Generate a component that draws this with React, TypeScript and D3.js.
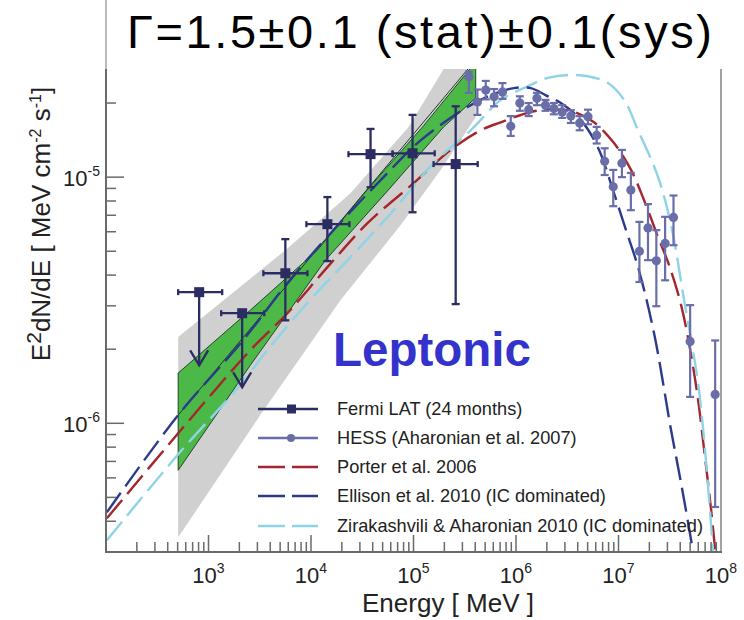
import React from "react";
import * as d3 from "d3";

// ---------- data ----------
const fermiE = [811, 2130, 5620, 14450, 38100, 97900, 258000];
const fermiELo = [506, 1330, 3430, 9020, 23200, 62500, 157000];
const fermiEHi = [1360, 3500, 9230, 23700, 62500, 161000, 423000];
const fermiF = [3.41e-6, 2.8e-6, 4.07e-6, 6.44e-6, 1.24e-5, 1.25e-5, 1.13e-5];
const fermiFLo = [1.72e-6, 1.4e-6, 2.62e-6, 4.56e-6, 9.1e-6, 7.2e-6, 3.05e-6];
const fermiFHi = [0, 0, 5.6e-6, 8.3e-6, 1.57e-5, 1.79e-5, 1.94e-5];
const fermiUL = [true, true, false, false, false, false, false];

const hessE = [3.47e5, 4.2e5, 5.07e5, 6.11e5, 7.38e5, 8.89e5, 1.09e6, 1.33e6, 1.6e6, 1.94e6, 2.34e6, 2.82e6, 3.43e6, 4.18e6, 5.04e6, 6.12e6, 7.33e6, 8.89e6, 1.08e7, 1.32e7, 1.6e7, 1.94e7, 2.34e7, 2.85e7, 3.44e7, 5.0e7, 8.77e7];
const hessF = [2.56e-5, 2.02e-5, 2.26e-5, 2.12e-5, 2.22e-5, 1.61e-5, 2.0e-5, 1.88e-5, 2.09e-5, 1.96e-5, 1.9e-5, 1.84e-5, 1.77e-5, 1.66e-5, 1.76e-5, 1.48e-5, 1.16e-5, 9.13e-6, 1.14e-5, 8.86e-6, 5.0e-6, 6.22e-6, 4.57e-6, 5.38e-6, 6.86e-6, 2.15e-6, 1.31e-6];
const hessFHi = [2.68e-5, 2.27e-5, 2.46e-5, 2.28e-5, 2.41e-5, 1.77e-5, 2.13e-5, 2.0e-5, 2.2e-5, 2.06e-5, 2.0e-5, 1.96e-5, 1.87e-5, 1.77e-5, 1.88e-5, 1.6e-5, 1.31e-5, 1.07e-5, 1.29e-5, 1.04e-5, 6.58e-6, 7.77e-6, 6.09e-6, 6.9e-6, 8.42e-6, 3.02e-6, 2.17e-6];
const hessFLo = [2.2e-5, 1.79e-5, 2.07e-5, 1.94e-5, 2.08e-5, 1.47e-5, 1.86e-5, 1.77e-5, 1.96e-5, 1.86e-5, 1.8e-5, 1.74e-5, 1.66e-5, 1.55e-5, 1.64e-5, 1.37e-5, 1.02e-5, 7.62e-6, 1.0e-5, 7.34e-6, 3.75e-6, 4.6e-6, 2.99e-6, 3.81e-6, 5.29e-6, 1.28e-6, 4.57e-7];

// systematic (gray) and statistical (green) butterflies
const grayUpE = [506, 5621, 24280, 89580, 196900];
const grayUpF = [2.24e-6, 5.05e-6, 8.61e-6, 1.6e-5, 2.75e-5];
const grayLoE = [506, 3202, 19390, 74780, 184000, 404600];
const grayLoF = [3.44e-7, 1.08e-6, 3.16e-6, 6.38e-6, 1.07e-5, 1.75e-5];
const greenUpE = [506, 2556, 11552, 32530, 122700, 404600];
const greenUpF = [1.6e-6, 2.88e-6, 5.05e-6, 8.53e-6, 1.6e-5, 2.94e-5];
const greenLoE = [506, 2556, 13830, 53380, 196900, 404600];
const greenLoF = [6.44e-7, 1.72e-6, 4.6e-6, 8.61e-6, 1.6e-5, 2.1e-5];
const fitE = [506, 404600];
const fitF = [1.08e-6, 3.0e-5];

// models
const porterE = [102, 506, 2556, 5880, 14470, 35590, 100200, 230500, 452800, 710200, 1.395e6, 2.342e6, 3.673e6, 5.761e6, 9.037e6, 1.325e7, 1.776e7, 2.433e7, 3.115e7, 4.083e7, 5.113e7, 5.986e7, 6.852e7, 8.018e7, 8.777e7];
const porterF = [4.11e-7, 9.11e-7, 1.98e-6, 2.8e-6, 4.31e-6, 6.5e-6, 9.45e-6, 1.29e-5, 1.55e-5, 1.67e-5, 1.84e-5, 1.89e-5, 1.84e-5, 1.67e-5, 1.375e-5, 1.07e-5, 8.06e-6, 5.7e-6, 4.39e-6, 3.02e-6, 1.89e-6, 1.24e-6, 7.77e-7, 4.43e-7, 3.05e-7];
const ellisonE = [102, 506, 2184, 5880, 16560, 51020, 117300, 337900, 567100, 951700, 1.395e6, 1.956e6, 2.741e6, 4.299e6, 6.303e6, 9.037e6, 1.184e7, 1.551e7, 2.223e7, 3.259e7, 4.083e7, 5.113e7, 5.349e7];
const ellisonF = [4.35e-7, 1.08e-6, 2.18e-6, 3.71e-6, 6.09e-6, 1.0e-5, 1.41e-5, 1.93e-5, 2.15e-5, 2.3e-5, 2.3e-5, 2.15e-5, 2.0e-5, 1.705e-5, 1.32e-5, 8.61e-6, 6.09e-6, 4.31e-6, 2.32e-6, 9.37e-7, 5.7e-7, 3.35e-7, 2.99e-7];
const zirakE = [102, 506, 2041, 3748, 9221, 24280, 63890, 157200, 361600, 452800, 710200, 1.304e6, 2.046e6, 3.209e6, 5.033e6, 7.898e6, 1.132e7, 1.551e7, 2.433e7, 3.259e7, 4.369e7, 5.113e7, 5.986e7, 6.852e7, 7.665e7, 8.388e7];
const zirakF = [3.35e-7, 7.48e-7, 1.43e-6, 1.98e-6, 3.08e-6, 4.73e-6, 7.34e-6, 1.14e-5, 1.55e-5, 1.71e-5, 2.06e-5, 2.34e-5, 2.53e-5, 2.6e-5, 2.57e-5, 2.41e-5, 2.06e-5, 1.55e-5, 1.0e-5, 6.38e-6, 3.16e-6, 2.18e-6, 1.45e-6, 8.53e-7, 4.86e-7, 2.99e-7];

const xMajor = [3, 4, 5, 6, 7, 8];
const yMajor = [-6, -5];
const legendLabels = [
  "Fermi LAT (24 months)",
  "HESS (Aharonian et al. 2007)",
  "Porter et al. 2006",
  "Ellison et al. 2010 (IC dominated)",
  "Zirakashvili & Aharonian 2010 (IC dominated)",
];
const titleText = "\u0393=1.5\u00b10.1 (stat)\u00b10.1(sys)";

// ---------- style ----------
const FONT = "'Liberation Sans', Arial, Helvetica, sans-serif";
const C_FERMI = "#2b2d62";
const C_HESS = "#6a6ea8";
const C_PORTER = "#a5262c";
const C_ELLISON = "#2c3a8c";
const C_ZIRAK = "#8ed3e6";
const C_GREEN = "#4cb848";
const C_GRAY = "#d0d0d0";
const C_AXIS = "#6a6a6a";

const L = 106, R = 721, T = 69, B = 552;

export default function App() {
  const x = d3.scaleLog().domain([100, 1e8]).range([L, R]);
  const y = d3.scaleLog().domain([3e-7, 2.75e-5]).range([B, T]);

  const pts = (E: number[], F: number[]) => E.map((e, i) => [x(e), y(F[i])] as [number, number]);
  const curve = d3.line().curve(d3.curveCatmullRom.alpha(0.5));
  const lin = d3.line();

  const grayPoly = [
    ...pts(grayUpE, grayUpF),
    [x(404600), y(2.75e-5)] as [number, number],
    ...pts(grayLoE, grayLoF).reverse(),
  ];
  const greenPoly = [...pts(greenUpE, greenUpF), ...pts(greenLoE, greenLoF).reverse()];

  // ticks
  const xTicks: { v: number; major: boolean }[] = [];
  for (let p = 2; p < 8; p++) for (let m = 1; m < 10; m++) {
    const v = m * Math.pow(10, p);
    if (v > 100 && v <= 1e8) xTicks.push({ v, major: m === 1 });
  }
  const yTicks: { v: number; major: boolean }[] = [];
  for (let p = -7; p < -4; p++) for (let m = 1; m < 10; m++) {
    const v = m * Math.pow(10, p);
    if (v > 3.05e-7 && v < 2.75e-5) yTicks.push({ v, major: m === 1 });
  }

  const dash = "24 8";

  return (
    <svg width={744} height={620} style={{ position: "absolute", left: 0, top: 0, background: "#fff" }} fontFamily={FONT}>
      <defs>
        <clipPath id="plotclip">
          <rect x={L} y={T} width={R - L} height={B - T} />
        </clipPath>
      </defs>
      <rect x={0} y={0} width={744} height={620} fill="#fff" />

      {/* title */}
      <line x1={L} y1={0} x2={L} y2={T} stroke="#777" strokeWidth={1} />
      <text x={127} y={48} fontSize={47} fill="#000" textLength={585} lengthAdjust="spacing">{titleText}</text>

      <g clipPath="url(#plotclip)">
        <path d={lin(grayPoly) + "Z"} fill={C_GRAY} />
        <path d={lin(greenPoly) + "Z"} fill={C_GREEN} stroke="#24462a" strokeWidth={1} />
        <path d={lin(pts(fitE, fitF)) || ""} fill="none" stroke="#1e3a22" strokeWidth={1} />

        <path d={curve(pts(porterE, porterF)) || ""} fill="none" stroke={C_PORTER} strokeWidth={2.4} strokeDasharray={dash} />
        <path d={curve(pts(zirakE, zirakF)) || ""} fill="none" stroke={C_ZIRAK} strokeWidth={2.4} strokeDasharray={dash} />
        <path d={curve(pts(ellisonE, ellisonF)) || ""} fill="none" stroke={C_ELLISON} strokeWidth={2.4} strokeDasharray={dash} />

        {/* HESS */}
        {hessE.map((e, i) => {
          const cx = x(e);
          return (
            <g key={"h" + i} stroke={C_HESS} strokeWidth={2.2}>
              <line x1={cx} x2={cx} y1={y(hessFHi[i])} y2={y(hessFLo[i])} />
              <line x1={cx - 4} x2={cx + 4} y1={y(hessFHi[i])} y2={y(hessFHi[i])} />
              <line x1={cx - 4} x2={cx + 4} y1={y(hessFLo[i])} y2={y(hessFLo[i])} />
              <circle cx={cx} cy={y(hessF[i])} r={4.6} fill={C_HESS} stroke="none" />
            </g>
          );
        })}

        {/* Fermi */}
        {fermiE.map((e, i) => {
          const cx = x(e);
          const cy = y(fermiF[i]);
          const x0 = x(fermiELo[i]);
          const x1 = x(fermiEHi[i]);
          const lo = y(fermiFLo[i]);
          return (
            <g key={"f" + i} stroke={C_FERMI} strokeWidth={2.3} fill="none">
              <line x1={x0} x2={x1} y1={cy} y2={cy} />
              <line x1={x0} x2={x0} y1={cy - 3} y2={cy + 3} />
              <line x1={x1} x2={x1} y1={cy - 3} y2={cy + 3} />
              {fermiUL[i] ? (
                <>
                  <line x1={cx} x2={cx} y1={cy} y2={lo} />
                  <polyline points={`${cx - 9},${lo - 15} ${cx},${lo} ${cx + 9},${lo - 15}`} />
                </>
              ) : (
                <>
                  <line x1={cx} x2={cx} y1={y(fermiFHi[i])} y2={lo} />
                  <line x1={cx - 4} x2={cx + 4} y1={y(fermiFHi[i])} y2={y(fermiFHi[i])} />
                  <line x1={cx - 4} x2={cx + 4} y1={lo} y2={lo} />
                </>
              )}
              <rect x={cx - 5} y={cy - 5} width={10} height={10} fill={C_FERMI} stroke="none" />
            </g>
          );
        })}
      </g>

      {/* axes */}
      <line x1={R} y1={T} x2={R} y2={B} stroke="#444" strokeWidth={1} />
      <line x1={L} y1={T} x2={L} y2={B + 1} stroke={C_AXIS} strokeWidth={2} />
      <line x1={L - 1} y1={B} x2={R + 1} y2={B} stroke={C_AXIS} strokeWidth={2} />
      {xTicks.map((t, i) => (
        <line key={"xt" + i} x1={x(t.v)} x2={x(t.v)} y1={B} y2={B - (t.major ? 17 : 10)} stroke={C_AXIS} strokeWidth={1.5} />
      ))}
      {yTicks.map((t, i) => (
        <line key={"yt" + i} x1={L} x2={L + (t.major ? 18 : 10)} y1={y(t.v)} y2={y(t.v)} stroke={C_AXIS} strokeWidth={1.5} />
      ))}
      {xMajor.map((p) => (
        <text key={"xl" + p} x={x(Math.pow(10, p))} y={583} fontSize={22} textAnchor="middle" fill="#222">
          10<tspan dy={-10} fontSize={14}>{p}</tspan>
        </text>
      ))}
      {yMajor.map((p) => (
        <text key={"yl" + p} x={100} y={y(Math.pow(10, p)) + 9} fontSize={22} textAnchor="end" fill="#222">
          10<tspan dy={-10} fontSize={14}>{p}</tspan>
        </text>
      ))}

      {/* axis titles */}
      <text x={448} y={612} fontSize={26} textAnchor="middle" fill="#222">Energy [ MeV ]</text>
      <text transform="translate(50,224) rotate(-90)" fontSize={26} textAnchor="middle" fill="#222">
        E<tspan dy={-9} fontSize={21}>2</tspan>
        <tspan dy={9}>dN/dE [ MeV cm</tspan>
        <tspan dy={-9} fontSize={16}>-2</tspan>
        <tspan dy={9}> s</tspan>
        <tspan dy={-9} fontSize={16}>-1</tspan>
        <tspan dy={9}>]</tspan>
      </text>

      {/* Leptonic */}
      <text x={333} y={366} fontSize={47.5} fontWeight="bold" fill="#3333cc">Leptonic</text>

      {/* legend */}
      {legendLabels.map((lab, i) => {
        const ly = [409, 438, 467, 496, 526][i];
        return (
          <g key={"lg" + i}>
            {i === 0 && (
              <g>
                <line x1={258} x2={318} y1={ly} y2={ly} stroke={C_FERMI} strokeWidth={2.3} />
                <rect x={287} y={ly - 4.5} width={9} height={9} fill={C_FERMI} />
              </g>
            )}
            {i === 1 && (
              <g>
                <line x1={258} x2={318} y1={ly} y2={ly} stroke={C_HESS} strokeWidth={2.3} />
                <circle cx={291} cy={ly} r={4} fill={C_HESS} />
              </g>
            )}
            {i >= 2 && (
              <line x1={258} x2={318} y1={ly} y2={ly} stroke={[C_PORTER, C_ELLISON, C_ZIRAK][i - 2]} strokeWidth={2.3} strokeDasharray="27 7" />
            )}
            <text x={337} y={ly + 6} fontSize={18.2} fill="#222">{lab}</text>
          </g>
        );
      })}
    </svg>
  );
}
